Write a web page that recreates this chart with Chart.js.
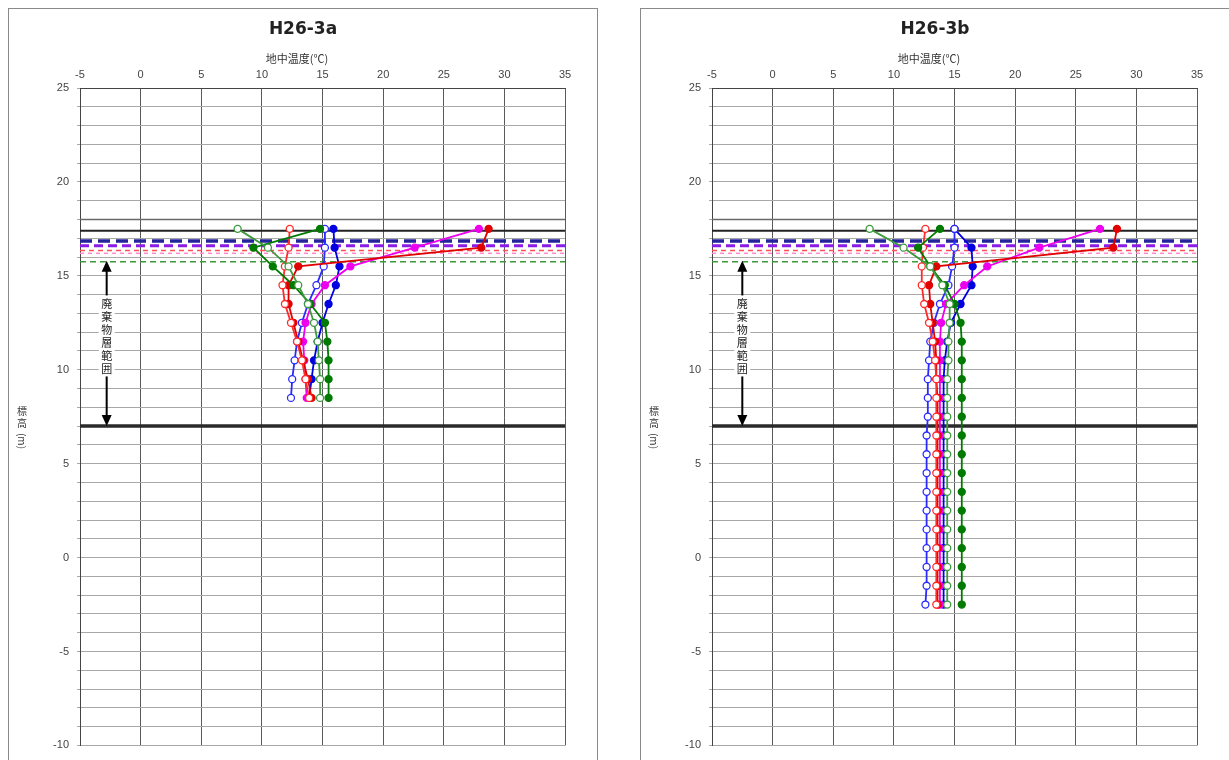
<!DOCTYPE html>
<html>
<head>
<meta charset="utf-8">
<script src="https://cdn.jsdelivr.net/npm/chart.js@4.4.1/dist/chart.umd.min.js"></script>
<style>
  body { margin: 0; background: #fff; }
  .frame { position: absolute; top: 8px; width: 588px; height: 800px; border: 1px solid #8a8a8a; background: #fff; }
  #f1 { left: 8px; }
  #f2 { left: 640px; }
  canvas { position: absolute; left: 0; top: 0; }
</style>
</head>
<body>
<div class="frame" id="f1"><canvas id="chartA" width="588" height="751"></canvas></div>
<div class="frame" id="f2"><canvas id="chartB" width="588" height="751"></canvas></div>
<script>
// 標高 (m)
var elevA = [17.5, 16.5, 15.5, 14.5, 13.5, 12.5, 11.5, 10.5, 9.5, 8.5];
var elevB = [17.5, 16.5, 15.5, 14.5, 13.5, 12.5, 11.5, 10.5, 9.5, 8.5, 7.5,
             6.5, 5.5, 4.5, 3.5, 2.5, 1.5, 0.5, -0.5, -1.5, -2.5];

// H26-3a 地中温度 (℃)
var tempA_green1 = [14.8, 9.3, 10.9, 12.6, 14.0, 15.2, 15.4, 15.5, 15.5, 15.5];
var tempA_green2 = [8.0, 10.5, 12.2, 13.0, 13.8, 14.3, 14.6, 14.7, 14.8, 14.8];
var tempA_red1   = [28.7, 28.1, 13.0, 12.2, 12.2, 12.6, 13.0, 13.4, 13.8, 14.1];
var tempA_red2   = [12.3, 12.2, 11.9, 11.7, 11.9, 12.4, 12.9, 13.3, 13.6, 13.9];
var tempA_pink   = [27.9, 22.6, 17.3, 15.2, 14.1, 13.6, 13.4, 13.5, 13.6, 13.7];
var tempA_blue1  = [15.9, 16.0, 16.4, 16.1, 15.5, 15.0, 14.6, 14.3, 14.1, 13.9];
var tempA_blue2  = [15.2, 15.2, 15.1, 14.5, 13.8, 13.3, 12.9, 12.7, 12.5, 12.4];

// H26-3b 地中温度 (℃)
var tempB_green1 = [13.8, 12.0, 13.0, 14.2, 15.0, 15.5, 15.6, 15.6, 15.6, 15.6, 15.6,
                    15.6, 15.6, 15.6, 15.6, 15.6, 15.6, 15.6, 15.6, 15.6, 15.6];
var tempB_green2 = [8.0, 10.8, 13.0, 14.0, 14.6, 14.6, 14.5, 14.5, 14.4, 14.4, 14.4,
                    14.4, 14.4, 14.4, 14.4, 14.4, 14.4, 14.4, 14.4, 14.4, 14.4];
var tempB_red1   = [28.4, 28.1, 13.5, 12.9, 13.0, 13.2, 13.4, 13.5, 13.5, 13.6, 13.6,
                    13.6, 13.6, 13.6, 13.6, 13.6, 13.6, 13.6, 13.6, 13.6, 13.6];
var tempB_red2   = [12.6, 12.4, 12.3, 12.3, 12.5, 12.9, 13.2, 13.4, 13.5, 13.5, 13.5,
                    13.5, 13.5, 13.5, 13.5, 13.5, 13.5, 13.5, 13.5, 13.5, 13.5];
var tempB_pink   = [27.0, 22.0, 17.7, 15.8, 14.3, 13.9, 13.8, 13.8, 13.8, 13.8, 13.8,
                    13.8, 13.8, 13.8, 13.8, 13.8, 13.8, 13.8, 13.8, 13.8, 13.8];
var tempB_blue1  = [15.0, 16.4, 16.5, 16.4, 15.5, 14.7, 14.4, 14.2, 14.1, 14.1, 14.1,
                    14.1, 14.1, 14.1, 14.1, 14.1, 14.1, 14.1, 14.1, 14.1, 14.1];
var tempB_blue2  = [15.0, 15.0, 14.8, 14.5, 13.8, 13.3, 13.0, 12.9, 12.8, 12.8, 12.8,
                    12.7, 12.7, 12.7, 12.7, 12.7, 12.7, 12.7, 12.7, 12.7, 12.6];

// 水位・地表面・廃棄物層下端 (標高 m)
var levels = [18.0, 17.4, 16.85, 16.6, 16.35, 16.2, 15.75, 7.0];

// 軸
var xRange = [-5, 35];
var yRange = [-10, 25];
var wasteTop = 15.8;
var wasteBottom = 7.0;

Chart.defaults.font.family = '"Liberation Sans", Arial, sans-serif';

var levelStyle = [
  { color: '#6a6a6a', width: 1.5, dash: [] },
  { color: '#222222', width: 2, dash: [] },
  { color: '#23239a', width: 3.5, dash: [12, 6] },
  { color: '#8a1ce6', width: 3, dash: [9, 5] },
  { color: '#ff5050', width: 1.5, dash: [5, 4] },
  { color: '#ff8ad0', width: 1.5, dash: [4, 4] },
  { color: '#3a9a3a', width: 1.5, dash: [6, 4] },
  { color: '#2a2a2a', width: 3.5, dash: [] }
];

// 図のタイトル・軸名・廃棄物層範囲の矢印
var decor = {
  id: 'decor',
  afterDatasetsDraw: function (chart, args, opts) {
    var ctx = chart.ctx, x = chart.scales.x, y = chart.scales.y;
    ctx.save();
    ctx.fillStyle = '#222';
    ctx.textAlign = 'center';
    ctx.textBaseline = 'middle';
    ctx.font = 'bold 17px "DejaVu Sans", sans-serif';
    ctx.fillText(opts.title, chart.width / 2, 21);
    ctx.font = '11px "Noto Sans CJK JP"';
    ctx.fillStyle = '#333';
    ctx.fillText('地中温度(℃)', chart.width / 2 - 6, 50);

    // 縦軸名
    ctx.font = '10px "Noto Sans CJK JP"';
    ctx.fillText('標', 13, 402);
    ctx.fillText('高', 13, 414);
    ctx.save();
    ctx.translate(13, 432);
    ctx.rotate(Math.PI / 2);
    ctx.fillText('(m)', 0, 0);
    ctx.restore();

    // 矢印
    var ax = x.getPixelForValue(opts.arrowX);
    var top = y.getPixelForValue(wasteTop);
    var bot = y.getPixelForValue(wasteBottom);
    ctx.strokeStyle = '#000';
    ctx.fillStyle = '#000';
    ctx.lineWidth = 2;
    ctx.beginPath();
    ctx.moveTo(ax, top + 8);
    ctx.lineTo(ax, bot - 8);
    ctx.stroke();
    ctx.beginPath();
    ctx.moveTo(ax, top); ctx.lineTo(ax - 5, top + 11); ctx.lineTo(ax + 5, top + 11);
    ctx.closePath(); ctx.fill();
    ctx.beginPath();
    ctx.moveTo(ax, bot); ctx.lineTo(ax - 5, bot - 11); ctx.lineTo(ax + 5, bot - 11);
    ctx.closePath(); ctx.fill();

    var chars = '廃棄物層範囲'.split('');
    var step = 13;
    var cy = y.getPixelForValue(11.8);
    var y0 = cy - (chars.length - 1) * step / 2;
    ctx.fillStyle = '#fff';
    ctx.fillRect(ax - 8, y0 - 8, 16, (chars.length - 1) * step + 16);
    ctx.fillStyle = '#222';
    ctx.font = '11px "Noto Sans CJK JP"';
    chars.forEach(function (c, i) { ctx.fillText(c, ax, y0 + i * step); });
    ctx.restore();
  }
};

function makeChart(id, title, arrowX, elev, series) {
  var datasets = [];
  levels.forEach(function (v, i) {
    var st = levelStyle[i];
    datasets.push({
      data: [{ x: xRange[0], y: v }, { x: xRange[1], y: v }],
      showLine: true, pointRadius: 0,
      borderColor: st.color, borderWidth: st.width, borderDash: st.dash,
      order: 2
    });
  });
  series.forEach(function (s) {
    datasets.push({
      data: elev.map(function (e, i) { return { x: s.values[i], y: e }; }),
      showLine: true,
      borderColor: s.color, borderWidth: 1.8,
      pointRadius: 3.5, pointBorderWidth: 1.3,
      pointBorderColor: s.color,
      pointBackgroundColor: s.hollow ? '#fff' : s.color,
      order: 1
    });
  });

  return new Chart(document.getElementById(id), {
    type: 'scatter',
    data: { datasets: datasets },
    options: {
      responsive: false,
      animation: false,
      layout: { padding: { left: 0, right: 32, top: 59, bottom: 10 } },
      plugins: {
        legend: { display: false },
        tooltip: { enabled: false },
        decor: { title: title, arrowX: arrowX }
      },
      scales: {
        x: {
          type: 'linear', position: 'top',
          min: xRange[0], max: xRange[1],
          ticks: { stepSize: 5, color: '#444', font: { size: 11 }, padding: 6 },
          grid: { color: '#5a5a5a', drawTicks: false },
          border: { color: '#444' },
          afterFit: function (s) { s.height = 20; }
        },
        y: {
          type: 'linear',
          min: yRange[0], max: yRange[1],
          ticks: {
            stepSize: 1, autoSkip: false, color: '#444', font: { size: 11 }, padding: 8,
            callback: function (v) { return v % 5 === 0 ? v : ''; }
          },
          grid: { color: '#a8a8a8', tickLength: 3 },
          border: { color: '#444' },
          afterFit: function (s) { s.width = 71; }
        }
      }
    },
    plugins: [decor]
  });
}

makeChart('chartA', 'H26-3a', -2.8, elevA, [
  { values: tempA_green2, color: '#3c9a3c', hollow: true },
  { values: tempA_green1, color: '#007a00', hollow: false },
  { values: tempA_red2, color: '#ff2a2a', hollow: true },
  { values: tempA_red1, color: '#e00000', hollow: false },
  { values: tempA_pink, color: '#ee00ee', hollow: false },
  { values: tempA_blue2, color: '#2a2aff', hollow: true },
  { values: tempA_blue1, color: '#0000e0', hollow: false }
]);

makeChart('chartB', 'H26-3b', -2.5, elevB, [
  { values: tempB_green2, color: '#3c9a3c', hollow: true },
  { values: tempB_green1, color: '#007a00', hollow: false },
  { values: tempB_red2, color: '#ff2a2a', hollow: true },
  { values: tempB_red1, color: '#e00000', hollow: false },
  { values: tempB_pink, color: '#ee00ee', hollow: false },
  { values: tempB_blue2, color: '#2a2aff', hollow: true },
  { values: tempB_blue1, color: '#0000e0', hollow: false }
]);
</script>
</body>
</html>
